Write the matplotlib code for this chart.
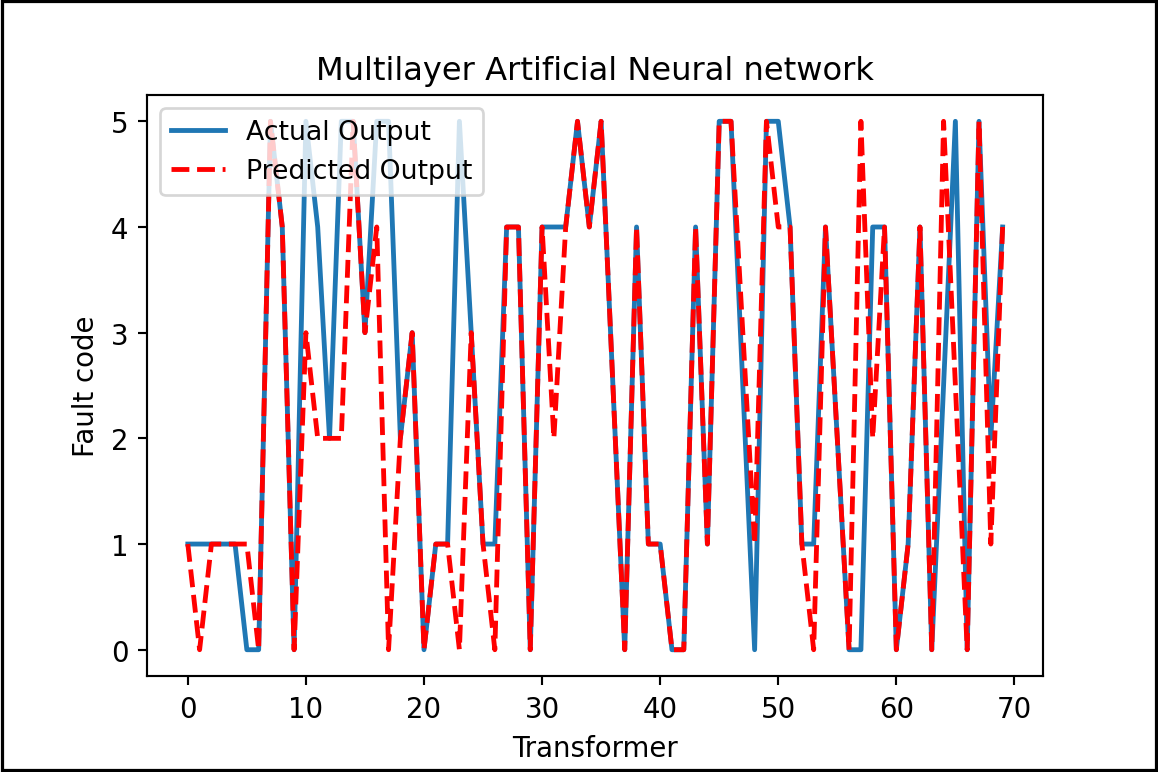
import matplotlib
matplotlib.use('Agg')
import matplotlib.pyplot as plt
from matplotlib.patches import Rectangle

# fault codes for each transformer sample
actual_output = [1, 1, 1, 1, 1, 0, 0, 5, 4, 0,
                 5, 4, 2, 5, 5, 3, 5, 5, 2, 3,
                 0, 1, 1, 5, 3, 1, 1, 4, 4, 0,
                 4, 4, 4, 5, 4, 5, 2.5, 0, 4, 1,
                 1, 0, 0, 4, 1, 5, 5, 2.5, 0, 5,
                 5, 4, 1, 1, 4, 2, 0, 0, 4, 4,
                 0, 1, 4, 0, 2.5, 5, 0, 5, 2, 4]

predicted_output = [1, 0, 1, 1, 1, 1, 0, 5, 4, 0,
                    3, 2, 2, 2, 5, 3, 4, 0, 2, 3,
                    0, 1, 1, 0, 3, 1, 0, 4, 4, 0,
                    4, 2, 4, 5, 4, 5, 2.5, 0, 4, 1,
                    1, 0, 0, 4, 1, 5, 5, 3, 1, 5,
                    4, 4, 1, 0, 4, 2, 0, 5, 2, 4,
                    0, 1, 4, 0, 5, 2.5, 0, 5, 1, 4]

transformer = list(range(len(actual_output)))

fig = plt.figure(figsize=(6, 4.005), dpi=193)
fig.subplots_adjust(left=0.127, right=0.901, bottom=0.124, top=0.876)
ax = fig.add_subplot(111)

ax.plot(transformer, actual_output, linewidth=1.8, label='Actual Output')
ax.plot(transformer, predicted_output, 'r--', linewidth=1.8, label='Predicted Output')

ax.set_title('Multilayer Artificial Neural network', fontsize=12)
ax.set_xlabel('Transformer', fontsize=10.3)
ax.set_ylabel('Fault code', fontsize=10.3)
ax.tick_params(labelsize=10.3)
ax.legend(loc='upper left', fontsize=10)

# thin black frame around the whole figure
fig.patches.append(Rectangle((0.002, 0.003), 0.996, 0.994, transform=fig.transFigure,
                             fill=False, edgecolor='black', linewidth=1.2))

plt.savefig('out.png', dpi=193)
